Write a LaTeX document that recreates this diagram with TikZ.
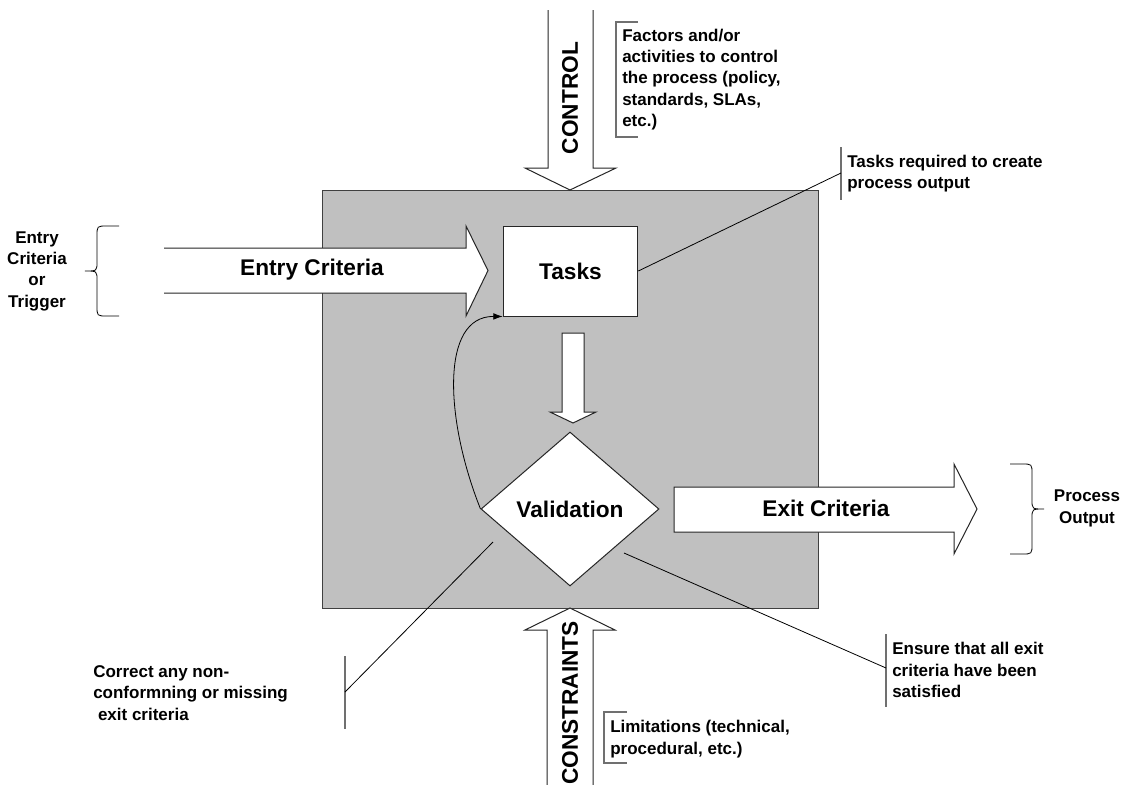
\documentclass[tikz,border=0pt]{standalone}
\usepackage{fontspec}
\setmainfont{Liberation Sans}
\usetikzlibrary{shapes.geometric,arrows.meta}
\definecolor{procgray}{HTML}{C0C0C0}
\definecolor{bargray}{HTML}{707070}
\tikzset{
  bigtext/.style={font=\bfseries\fontsize{17}{20}\selectfont},
  notetext/.style={font=\bfseries\fontsize{12.75}{16}\selectfont, align=left, inner sep=0pt},
  blockarrow/.style={fill=white, draw=black!85, line width=0.75pt},
  taskbox/.style={draw=black!85, fill=white, line width=0.75pt, minimum width=101pt, minimum height=67.5pt, inner sep=0pt, bigtext},
  decision/.style={diamond, draw=black!85, fill=white, line width=0.75pt, minimum width=133.5pt, minimum height=115.5pt, inner sep=0pt, bigtext},
  leader/.style={black, line width=0.6pt},
  bracket/.style={bargray, line width=0.9pt},
}
\begin{document}
\begin{tikzpicture}[x=0.75pt, y=-0.75pt]
  \useasboundingbox (0,0) rectangle (1121,785);
  % process box
  \filldraw[fill=procgray, draw=black!75, line width=0.75pt] (322,190) rectangle (818,608);
  % control and constraints
  \filldraw[blockarrow] (548,10)--(548,168)--(525,168)--(570,190)--(616,168)--(593,168)--(593,10);
  \filldraw[blockarrow] (547,785)--(547,630)--(525,630)--(570,608)--(615,630)--(593,630)--(593,785);
  \node[bigtext, rotate=90] (control) at (570,98) {CONTROL};
  \node[bigtext, rotate=90] (constraints) at (570,703) {CONSTRAINTS};
  % entry and exit
  \filldraw[blockarrow] (164,248)--(466,248)--(466,226)--(488,270.5)--(466,316)--(466,293)--(164,293);
  \filldraw[blockarrow] (674,487)--(954,487)--(954,464)--(977,509)--(954,554)--(954,532)--(674,532)--cycle;
  \node[bigtext] (entry) at (312,270) {Entry Criteria};
  \node[bigtext] (exit) at (826,508) {Exit Criteria};
  % tasks and validation
  \node[taskbox] (tasks) at (570.5,271) {Tasks};
  \filldraw[blockarrow] (562,333)--(562,412)--(550,412)--(573,423)--(596,412)--(584,412)--(584,333)--cycle;
  \node[decision] (valid) at (570,509) {Validation};
  \draw[line width=0.6pt, -{Latex[length=7pt,width=5pt]}] (valid.west) .. controls (445,420) and (440,316) .. (tasks.south west);
  % braces
  \node[notetext, align=center] (entrynote) at (37,271) {Entry\\Criteria\\or\\Trigger};
  \draw[line width=0.6pt] (119,226) -- (107,226) .. controls (97,226) .. (97,236) -- (97,262) .. controls (97,271) .. (85,271) .. controls (97,271) .. (97,280) -- (97,306) .. controls (97,316) .. (107,316) -- (119,316);
  \node[notetext, align=center] (outnote) at (1087,508.5) {Process\\Output};
  \draw[line width=0.6pt] (1010,464) -- (1022,464) .. controls (1032,464) .. (1032,474) -- (1032,500) .. controls (1032,509) .. (1044,509) .. controls (1032,509) .. (1032,518) -- (1032,544) .. controls (1032,554) .. (1022,554) -- (1010,554);
  % notes
  \node[notetext, anchor=west] (ctrlnote) at (622,79.5) {Factors and/or\\activities to control\\the process (policy,\\standards, SLAs,\\etc.)};
  \draw[bracket] (638,22) -- (616,22) -- (616,137) -- (638,137);
  \node[notetext, anchor=west] (limnote) at (610,739) {Limitations (technical,\\procedural, etc.)};
  \draw[bracket] (627,712) -- (604,712) -- (604,763) -- (627,763);
  \node[notetext, anchor=west] (tasknote) at (847,173.5) {Tasks required to create\\process output};
  \coordinate (taskbar) at (841,173);
  \draw[bracket] (841,147) -- (841,200);
  \draw[leader] (tasks.east) -- (taskbar);
  \node[notetext, anchor=west] (exitnote) at (892,670) {Ensure that all exit\\criteria have been\\satisfied};
  \coordinate (exitbar) at (886,668);
  \coordinate (exitfoot) at (624,553);
  \draw[bracket] (886,634) -- (886,707);
  \draw[leader] (exitfoot) -- (exitbar);
  \node[notetext, anchor=west] (fixnote) at (93,693) {Correct any non-\\conformning or missing\\\hspace{0.28em}exit criteria};
  \coordinate (fixbar) at (345,692);
  \coordinate (fixfoot) at (493,542);
  \draw[bracket] (345,656) -- (345,729);
  \draw[leader] (fixfoot) -- (fixbar);
\end{tikzpicture}
\end{document}
